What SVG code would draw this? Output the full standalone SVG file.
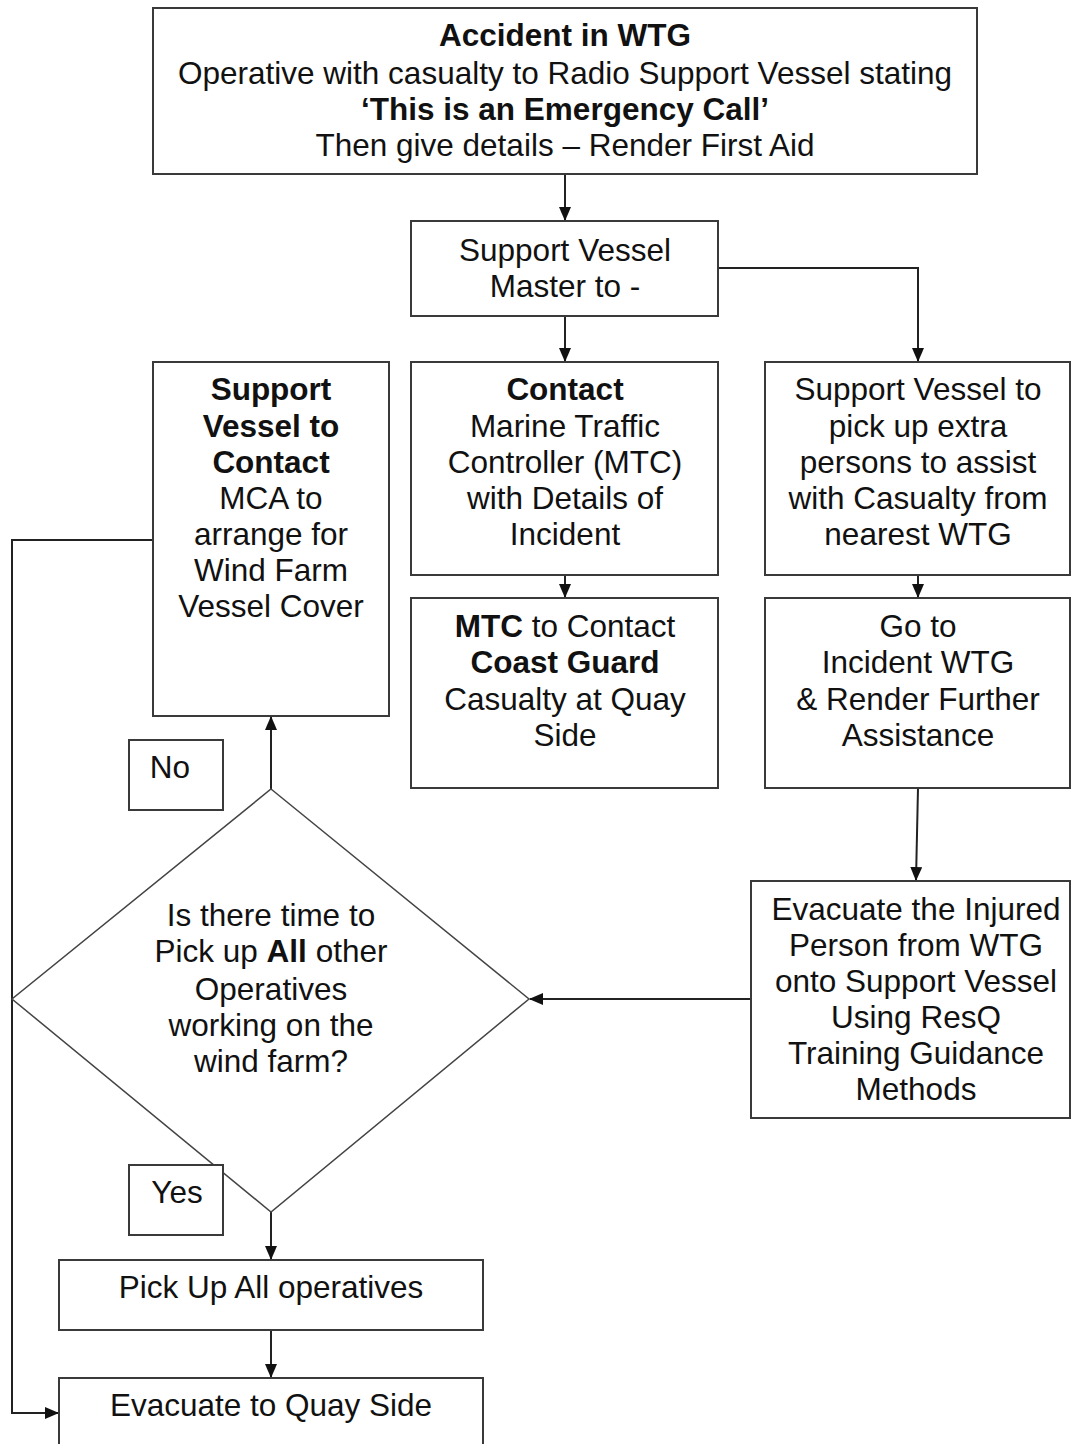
<svg xmlns="http://www.w3.org/2000/svg" width="1071" height="1444" viewBox="0 0 1071 1444">
<style>
.box{fill:#fff;stroke:#3a3a3a;stroke-width:2}
.t{font-family:"Liberation Sans",Arial,sans-serif;font-size:31.5px;fill:#111;text-anchor:middle}
.b{font-weight:bold}
.c{fill:none;stroke:#222;stroke-width:2}
</style>
<defs>
<marker id="ah" markerWidth="14" markerHeight="12" refX="13" refY="6" orient="auto" markerUnits="userSpaceOnUse">
<path d="M0,0 L14,6 L0,12 z" fill="#111"/>
</marker>
</defs>
<rect width="1071" height="1444" fill="#fff"/>
<g id="connectors">
<line class="c" x1="565" y1="174" x2="565" y2="220" marker-end="url(#ah)"/>
<line class="c" x1="565" y1="316" x2="565" y2="361" marker-end="url(#ah)"/>
<polyline class="c" points="718,268 918,268 918,361" marker-end="url(#ah)"/>
<line class="c" x1="565" y1="575" x2="565" y2="597" marker-end="url(#ah)"/>
<line class="c" x1="918" y1="575" x2="918" y2="597" marker-end="url(#ah)"/>
<line class="c" x1="918" y1="788" x2="916" y2="880" marker-end="url(#ah)"/>
<line class="c" x1="751" y1="999" x2="530" y2="999" marker-end="url(#ah)"/>
<line class="c" x1="271" y1="789" x2="271" y2="717" marker-end="url(#ah)"/>
<line class="c" x1="271" y1="1212" x2="271" y2="1259" marker-end="url(#ah)"/>
<line class="c" x1="271" y1="1330" x2="271" y2="1377" marker-end="url(#ah)"/>
<polyline class="c" points="153,540 12,540 12,1413 58,1413" marker-end="url(#ah)"/>
</g>
<g id="n1">
<rect class="box" x="153" y="8" width="824" height="166"/>
<text class="t b" x="565" y="46">Accident in WTG</text>
<text class="t" x="565" y="84" textLength="774" lengthAdjust="spacingAndGlyphs">Operative with casualty to Radio Support Vessel stating</text>
<text class="t b" x="565" y="120">‘This is an Emergency Call’</text>
<text class="t" x="565" y="156">Then give details – Render First Aid</text>
</g>
<g id="n2">
<rect class="box" x="411" y="221" width="307" height="95"/>
<text class="t" x="565" y="261">Support Vessel</text>
<text class="t" x="565" y="297">Master to -</text>
</g>
<g id="n3">
<rect class="box" x="153" y="362" width="236" height="354"/>
<text class="t b" x="271" y="400">Support</text>
<text class="t b" x="271" y="437">Vessel to</text>
<text class="t b" x="271" y="473">Contact</text>
<text class="t" x="271" y="509">MCA to</text>
<text class="t" x="271" y="545">arrange for</text>
<text class="t" x="271" y="581">Wind Farm</text>
<text class="t" x="271" y="617">Vessel Cover</text>
</g>
<g id="n4">
<rect class="box" x="411" y="362" width="307" height="213"/>
<text class="t b" x="565" y="400">Contact</text>
<text class="t" x="565" y="437">Marine Traffic</text>
<text class="t" x="565" y="473">Controller (MTC)</text>
<text class="t" x="565" y="509">with Details of</text>
<text class="t" x="565" y="545">Incident</text>
</g>
<g id="n5">
<rect class="box" x="765" y="362" width="305" height="213"/>
<text class="t" x="918" y="400">Support Vessel to</text>
<text class="t" x="918" y="437">pick up extra</text>
<text class="t" x="918" y="473">persons to assist</text>
<text class="t" x="918" y="509">with Casualty from</text>
<text class="t" x="918" y="545">nearest WTG</text>
</g>
<g id="n6">
<rect class="box" x="411" y="598" width="307" height="190"/>
<text class="t" x="565" y="637"><tspan class="b">MTC</tspan> to Contact</text>
<text class="t b" x="565" y="673">Coast Guard</text>
<text class="t" x="565" y="710">Casualty at Quay</text>
<text class="t" x="565" y="746">Side</text>
</g>
<g id="n7">
<rect class="box" x="765" y="598" width="305" height="190"/>
<text class="t" x="918" y="637">Go to</text>
<text class="t" x="918" y="673">Incident WTG</text>
<text class="t" x="918" y="710">&amp; Render Further</text>
<text class="t" x="918" y="746">Assistance</text>
</g>
<g id="n8">
<rect class="box" x="751" y="881" width="319" height="237"/>
<text class="t" x="916" y="920">Evacuate the Injured</text>
<text class="t" x="916" y="956">Person from WTG</text>
<text class="t" x="916" y="992">onto Support Vessel</text>
<text class="t" x="916" y="1028">Using ResQ</text>
<text class="t" x="916" y="1064">Training Guidance</text>
<text class="t" x="916" y="1100">Methods</text>
</g>
<g id="n9">
<polygon points="271,789 529,999 271,1212 12,999" fill="#fff" stroke="#444" stroke-width="1.5"/>
<text class="t" x="271" y="926">Is there time to</text>
<text class="t" x="271" y="962">Pick up <tspan class="b">All</tspan> other</text>
<text class="t" x="271" y="1000">Operatives</text>
<text class="t" x="271" y="1036">working on the</text>
<text class="t" x="271" y="1072">wind farm?</text>
</g>
<g id="n10">
<rect class="box" x="129" y="740" width="94" height="70"/>
<text class="t" x="170" y="778">No</text>
</g>
<g id="n11">
<rect class="box" x="129" y="1165" width="94" height="70"/>
<text class="t" x="177" y="1203">Yes</text>
</g>
<g id="n12">
<rect class="box" x="59" y="1260" width="424" height="70"/>
<text class="t" x="271" y="1298">Pick Up All operatives</text>
</g>
<g id="n13">
<rect class="box" x="59" y="1378" width="424" height="80"/>
<text class="t" x="271" y="1416">Evacuate to Quay Side</text>
</g>
</svg>
